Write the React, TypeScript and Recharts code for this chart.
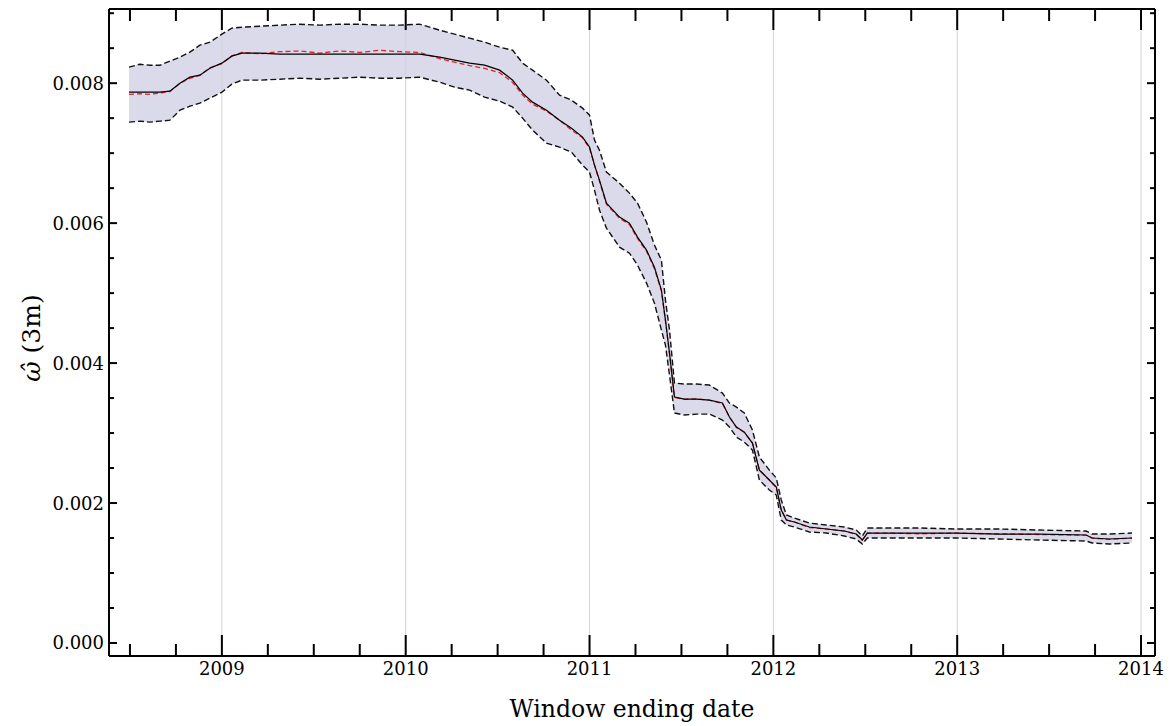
import React from "react";
import {
  ComposedChart,
  Area,
  Line,
  XAxis,
  YAxis,
  ReferenceLine,
  Label,
} from "recharts";

// window ending dates (decimal years)
const dates = [
  2008.495, 2008.554, 2008.609, 2008.663, 2008.717, 2008.772, 2008.826, 2008.88, 2008.935,
  2009.0, 2009.054, 2009.109, 2009.207, 2009.315, 2009.424, 2009.533, 2009.641, 2009.75,
  2009.859, 2009.967, 2010.076, 2010.185, 2010.266, 2010.348, 2010.429, 2010.511, 2010.582,
  2010.636, 2010.69, 2010.766, 2010.837, 2010.902, 2010.962, 2011.0, 2011.027, 2011.054,
  2011.092, 2011.163, 2011.217, 2011.261, 2011.31, 2011.353, 2011.391, 2011.413, 2011.435,
  2011.462, 2011.516, 2011.582, 2011.652, 2011.723, 2011.761, 2011.799, 2011.842, 2011.886,
  2011.924, 2011.978, 2012.016, 2012.043, 2012.071, 2012.114, 2012.196, 2012.288, 2012.386,
  2012.451, 2012.484, 2012.511, 2012.63, 2012.793, 2012.995, 2013.228, 2013.446, 2013.701,
  2013.734, 2013.826, 2013.951,
];

// point estimate (solid black)
const omegaMean = [
  0.007871, 0.007871, 0.007871, 0.007871, 0.007886, 0.008, 0.008086, 0.008114, 0.008214,
  0.008286, 0.008386, 0.008429, 0.008429, 0.008414, 0.008414, 0.008414, 0.008414, 0.008414,
  0.008414, 0.008414, 0.008414, 0.008371, 0.008329, 0.008286, 0.008257, 0.008186, 0.008043,
  0.007857, 0.007729, 0.007614, 0.007471, 0.007357, 0.007229, 0.007086, 0.006829, 0.006614,
  0.006286, 0.006086, 0.006, 0.0058, 0.005614, 0.005371, 0.005043, 0.004614, 0.004143,
  0.003514, 0.003486, 0.003486, 0.003471, 0.003429, 0.003229, 0.003086, 0.003014, 0.002857,
  0.002471, 0.002329, 0.002229, 0.0019, 0.001757, 0.001729, 0.001657, 0.001629, 0.0016,
  0.001557, 0.001471, 0.001571, 0.001571, 0.001571, 0.001571, 0.001557, 0.001557, 0.001543,
  0.0015, 0.001486, 0.0015,
];

// alternative estimate (red dashed)
const omegaAlt = [
  0.00784, 0.00785, 0.00784, 0.00786, 0.00788, 0.008, 0.00807, 0.00811, 0.00822,
  0.00828, 0.00839, 0.00844, 0.00842, 0.00845, 0.00846, 0.00843, 0.00846, 0.00844,
  0.00847, 0.00845, 0.00844, 0.00835, 0.0083, 0.00825, 0.00821, 0.00815, 0.00801,
  0.00783, 0.0077, 0.0076, 0.00747, 0.00733, 0.00722, 0.00707, 0.00683, 0.0066,
  0.00627, 0.00607, 0.00598, 0.00578, 0.0056, 0.00535, 0.00503, 0.0046, 0.00413,
  0.00351, 0.00348, 0.00349, 0.00347, 0.00342, 0.00323, 0.00308, 0.00301, 0.00286,
  0.00247, 0.00233, 0.00222, 0.0019, 0.00176, 0.00173, 0.00165, 0.00163, 0.0016,
  0.00155, 0.00147, 0.00157, 0.00157, 0.00156, 0.00157, 0.00156, 0.00155, 0.00154,
  0.0015, 0.00148, 0.0015,
];

// confidence band
const omegaUpper = [
  0.008229, 0.008271, 0.008257, 0.008257, 0.008314, 0.008371, 0.008443, 0.008543, 0.008586,
  0.0087, 0.008786, 0.0088, 0.008814, 0.008829, 0.008843, 0.008829, 0.008843, 0.008843,
  0.008829, 0.008829, 0.008843, 0.008757, 0.0087, 0.008643, 0.008586, 0.008514, 0.008471,
  0.008286, 0.008186, 0.008043, 0.007829, 0.007757, 0.007643, 0.007543, 0.007186, 0.007043,
  0.006729, 0.006571, 0.006429, 0.006286, 0.006014, 0.005686, 0.005471, 0.0049, 0.004471,
  0.003714, 0.0037, 0.0037, 0.003686, 0.003571, 0.003429, 0.003371, 0.003286, 0.003043,
  0.002657, 0.002471, 0.002357, 0.002043, 0.001829, 0.001786, 0.001714, 0.001686, 0.001657,
  0.001614, 0.001529, 0.001643, 0.001643, 0.001643, 0.001629, 0.001629, 0.001614, 0.0016,
  0.001557, 0.001557, 0.001571,
];

const omegaLower = [
  0.007443, 0.007457, 0.007443, 0.007457, 0.007471, 0.007614, 0.007671, 0.007714, 0.007786,
  0.007871, 0.007986, 0.008043, 0.008043, 0.008057, 0.008071, 0.008057, 0.008071, 0.008086,
  0.008071, 0.008071, 0.008086, 0.008014, 0.007943, 0.0079, 0.0078, 0.007743, 0.007657,
  0.0075, 0.007329, 0.007143, 0.007086, 0.007014, 0.006829, 0.006729, 0.006471, 0.006186,
  0.005929, 0.005657, 0.005571, 0.0054, 0.005143, 0.004857, 0.004471, 0.004257, 0.003829,
  0.003286, 0.003257, 0.003271, 0.003271, 0.003186, 0.003086, 0.002943, 0.002871, 0.002757,
  0.002329, 0.002186, 0.002114, 0.001757, 0.001686, 0.001657, 0.001586, 0.001571, 0.001529,
  0.001486, 0.001414, 0.0015, 0.0015, 0.0015, 0.0015, 0.001486, 0.001471, 0.001457,
  0.001429, 0.001414, 0.001429,
];

const xTicks = [
  2008.5, 2008.75, 2009, 2009.25, 2009.5, 2009.75, 2010, 2010.25, 2010.5, 2010.75, 2011,
  2011.25, 2011.5, 2011.75, 2012, 2012.25, 2012.5, 2012.75, 2013, 2013.25, 2013.5, 2013.75,
  2014,
];
const yearLines = [2009, 2010, 2011, 2012, 2013, 2014];
const yTicks = [
  0, 0.0005, 0.001, 0.0015, 0.002, 0.0025, 0.003, 0.0035, 0.004, 0.0045, 0.005, 0.0055,
  0.006, 0.0065, 0.007, 0.0075, 0.008, 0.0085, 0.009,
];

const data = dates.map((t, i) => ({
  t,
  mean: omegaMean[i],
  alt: omegaAlt[i],
  upper: omegaUpper[i],
  lower: omegaLower[i],
  band: [omegaLower[i], omegaUpper[i]],
}));

const FONT = "'DejaVu Serif', 'Liberation Serif', serif";
const X_DOMAIN = [2008.386, 2014.076];
const Y_DOMAIN = [-0.000186, 0.00906];

const isYearTick = (v: number) => Math.abs(v - Math.round(v)) < 1e-6;
const isMajorY = (v: number) => Math.abs(v / 0.002 - Math.round(v / 0.002)) < 1e-6;

const BottomTick = ({ x, y, payload }: any) => {
  const major = isYearTick(payload.value);
  return (
    <g>
      <line x1={x} x2={x} y1={y} y2={y - (major ? 21 : 12)} stroke="#000" strokeWidth={2} />
      {major && (
        <text x={x} y={y + 19} textAnchor="middle" fontSize={18} fontFamily={FONT} fill="#000">
          {payload.value}
        </text>
      )}
    </g>
  );
};

const LeftTick = ({ x, y, payload }: any) => {
  const major = isMajorY(payload.value);
  return (
    <g>
      <line x1={x} x2={x + (major ? 8 : 5)} y1={y} y2={y} stroke="#000" strokeWidth={2} />
      {major && (
        <text x={x - 5} y={y} dy="0.36em" textAnchor="end" fontSize={18} fontFamily={FONT} fill="#000">
          {payload.value.toFixed(3)}
        </text>
      )}
    </g>
  );
};

const RightTick = ({ x, y, payload }: any) => {
  const major = isMajorY(payload.value);
  return <line x1={x} x2={x - (major ? 8 : 5)} y1={y} y2={y} stroke="#000" strokeWidth={2} />;
};

// short tick hanging from the top frame, drawn from a vertical reference line
const topTickShape = (len: number) => (p: any) => {
  const top = Math.min(p.y1, p.y2);
  return <line x1={p.x1} x2={p.x1} y1={top} y2={top + len} stroke="#000" strokeWidth={2} />;
};

const App: React.FC = () => {
  return (
    <div style={{ width: 1164, height: 716 }}>
      <ComposedChart
        width={1164}
        height={716}
        data={data}
        margin={{ top: 0, right: 16, bottom: 0, left: 0 }}
      >
        <XAxis
          dataKey="t"
          type="number"
          domain={X_DOMAIN}
          ticks={xTicks}
          interval={0}
          allowDataOverflow
          height={68}
          tickSize={0}
          tickMargin={0}
          tickLine={false}
          axisLine={{ stroke: "#000", strokeWidth: 2 }}
          tick={(p: any) => <BottomTick {...p} />}
        >
          <Label
            value="Window ending date"
            position="insideBottom"
            offset={7}
            style={{ fontFamily: FONT, fontSize: 23.5, fill: "#000" }}
          />
        </XAxis>
        <XAxis
          xAxisId="top"
          orientation="top"
          type="number"
          domain={X_DOMAIN}
          allowDataOverflow
          height={1}
          tick={false}
          tickLine={false}
          axisLine={{ stroke: "#000", strokeWidth: 2 }}
        />
        <YAxis
          type="number"
          domain={Y_DOMAIN}
          ticks={yTicks}
          interval={0}
          allowDataOverflow
          width={101}
          tickSize={0}
          tickMargin={0}
          tickLine={false}
          axisLine={{ stroke: "#000", strokeWidth: 2 }}
          tick={(p: any) => <LeftTick {...p} />}
          label={{
            content: () => (
              <text
                x={23}
                y={330}
                transform="rotate(-90, 23, 330)"
                textAnchor="middle"
                dy="0.36em"
                fontSize={25}
                fontFamily={FONT}
                fill="#000"
              >
                <tspan fontStyle="italic">{"\u03C9\u0302"}</tspan>
                <tspan> (3m)</tspan>
              </text>
            ),
          }}
        />
        <YAxis
          yAxisId="right"
          orientation="right"
          type="number"
          domain={Y_DOMAIN}
          ticks={yTicks}
          interval={0}
          allowDataOverflow
          width={1}
          tickSize={0}
          tickMargin={0}
          tickLine={false}
          axisLine={{ stroke: "#000", strokeWidth: 2 }}
          tick={(p: any) => <RightTick {...p} />}
        />
        {yearLines.map((yr) => (
          <ReferenceLine key={yr} x={yr} stroke="#d4d4d4" strokeWidth={1} />
        ))}
        <Area
          dataKey="band"
          stroke="none"
          fill="#dadaeb"
          fillOpacity={1}
          isAnimationActive={false}
          activeDot={false}
        />
        <Line
          dataKey="upper"
          stroke="#111"
          strokeWidth={1.4}
          strokeDasharray="6 3"
          dot={false}
          activeDot={false}
          isAnimationActive={false}
        />
        <Line
          dataKey="lower"
          stroke="#111"
          strokeWidth={1.4}
          strokeDasharray="6 3"
          dot={false}
          activeDot={false}
          isAnimationActive={false}
        />
        <Line
          dataKey="alt"
          stroke="#e8202a"
          strokeWidth={1.3}
          strokeDasharray="5 3"
          dot={false}
          activeDot={false}
          isAnimationActive={false}
        />
        <Line
          dataKey="mean"
          stroke="#000"
          strokeWidth={1.2}
          dot={false}
          activeDot={false}
          isAnimationActive={false}
        />
        {xTicks.map((t) => (
          <ReferenceLine
            key={`top-${t}`}
            x={t}
            shape={topTickShape(isYearTick(t) ? 21 : 12)}
          />
        ))}
      </ComposedChart>
    </div>
  );
};

export default App;
